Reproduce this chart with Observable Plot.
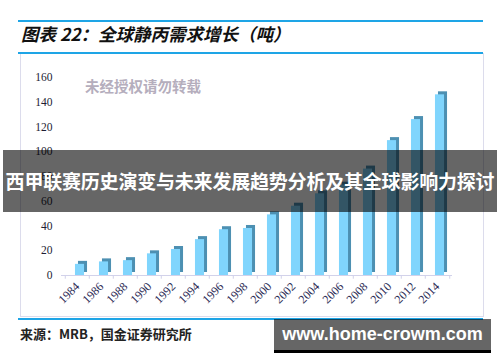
<!DOCTYPE html>
<html>
<head>
<meta charset="utf-8">
<script src="https://cdn.jsdelivr.net/npm/d3@7"></script>
<script src="https://cdn.jsdelivr.net/npm/@observablehq/plot@0.6"></script>
<style>
  html, body { margin: 0; padding: 0; background: #fff; }
  #wrap { position: relative; width: 500px; height: 362px; overflow: hidden; background: #fff; }
  #wrap > * { position: absolute; }
  .cjk { font-family: "Noto Sans CJK SC", sans-serif; }
</style>
</head>
<body>
<div id="wrap">
  <div style="left:18px;top:20px;width:465px;height:2px;background:#1ea5e6"></div>
  <div class="cjk" id="title" style="left:21px;top:21px;font-size:17.5px;font-weight:bold;font-style:italic;color:#111;white-space:nowrap"></div>
  <div style="left:20px;top:53px;width:462px;height:263px;border:1px solid #dcdcec;border-top:none"></div>
  <div style="left:18px;top:52px;width:465px;height:2px;background:#1ea5e6"></div>
  <div id="chart" style="left:0;top:0"></div>
  <div class="cjk" id="wm" style="left:85px;top:75px;font-size:14.5px;font-weight:bold;color:#b5aebd;white-space:nowrap"></div>
  <div style="left:18px;top:318px;width:465px;height:2px;background:#1ea5e6"></div>
  <div class="cjk" id="source" style="left:20px;top:324px;font-size:13px;font-weight:bold;color:#222;white-space:nowrap"></div>
  <div class="cjk" id="banner" style="left:3px;top:150px;width:494px;height:62px;line-height:62px;background:rgba(0,0,0,0.6);color:#fff;font-size:19px;font-weight:bold;text-align:center;white-space:nowrap;letter-spacing:-0.2px"></div>
  <div id="site" style="left:274px;top:319px;width:217px;height:31px;line-height:31px;background:rgba(0,0,0,0.6);border-bottom:3px solid #000;color:#fff;font-family:'Liberation Sans',Arial,sans-serif;font-size:18px;font-weight:bold;text-align:center;white-space:nowrap"></div>
</div>
<script>
// ---- data ----
const years = ["1984","1986","1988","1990","1992","1994","1996","1998","2000","2002","2004","2006","2008","2010","2012","2014"];
const demand = [9, 11, 12, 17.5, 21, 29, 37, 38, 49, 56, 66, 73, 86, 109, 126, 146];
const yTicks = [0, 20, 40, 60, 80, 100, 120, 140, 160];
const titleText = "图表 22：全球静丙需求增长（吨）";
const watermarkText = "未经授权请勿转载";
const sourceText = "来源：MRB，国金证券研究所";
const bannerText = "西甲联赛历史演变与未来发展趋势分析及其全球影响力探讨";
const siteText = "www.home-crowm.com";

document.getElementById("title").textContent = titleText;
document.getElementById("wm").textContent = watermarkText;
document.getElementById("source").textContent = sourceText;
document.getElementById("banner").textContent = bannerText;
document.getElementById("site").textContent = siteText;

const data = years.map((y, i) => ({year: y, value: demand[i]}));

const left = 61, right = 452;
const step = (right - left) / years.length;
const face = 9.5;
const inset = (step - face) / 2;

const chart = Plot.plot({
  width: 500,
  height: 362,
  marginLeft: left,
  marginRight: 500 - right,
  marginTop: 77,
  marginBottom: 87,
  style: {background: "transparent", fontFamily: "'Liberation Serif', serif", fontSize: "11.5px", overflow: "visible"},
  x: {type: "band", domain: years, padding: 0, label: null},
  y: {domain: [0, 160], label: null},
  marks: [
    Plot.ruleY([0], {stroke: "#d2d2ea", strokeWidth: 1.2}),
    Plot.ruleX(years, {x: d => d, y1: 0, y2: -3, dx: -step / 2, stroke: "#d2d2ea"}),
    Plot.ruleX([years[years.length - 1]], {x: d => d, y1: 0, y2: -3, dx: step / 2, stroke: "#d2d2ea"}),
    Plot.barY(data, {x: "year", y: "value", fill: "#4d90b2", dx: 5.5, dy: -3, insetLeft: inset, insetRight: inset}),
    Plot.barY(data, {x: "year", y: "value", fill: "#80d5fd", dx: 2.5, insetLeft: inset, insetRight: inset}),
    Plot.axisY({ticks: yTicks, tickSize: 0, tickPadding: 9, fill: "#1d1d33"}),
    Plot.axisX({tickSize: 0, tickRotate: -45, tickPadding: 9, fontSize: 12, fill: "#2c2c55"})
  ]
});
document.getElementById("chart").appendChild(chart);
</script>
</body>
</html>
